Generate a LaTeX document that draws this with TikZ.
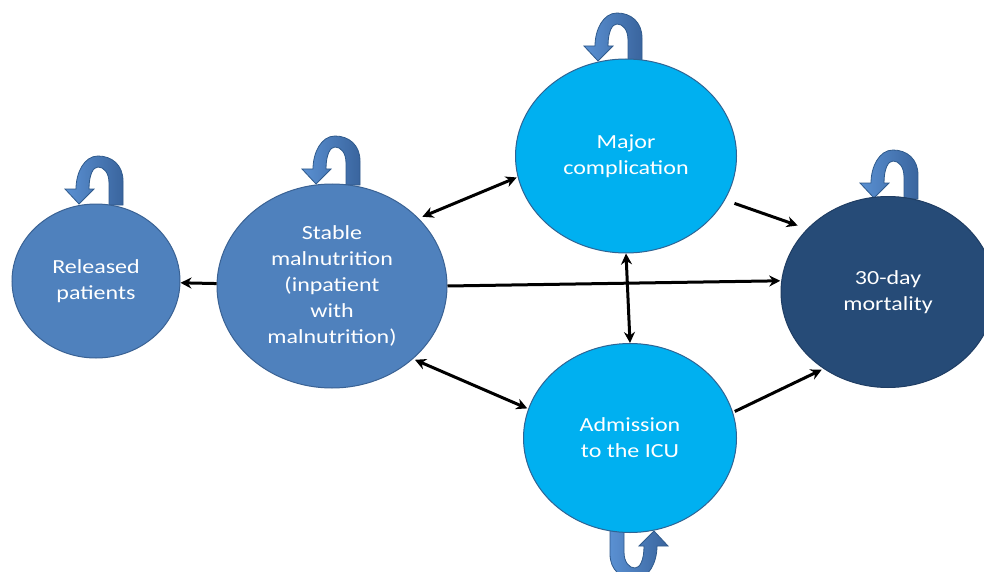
\documentclass[tikz,border=0pt]{standalone}
\usepackage{fontspec}
\setmainfont{Carlito}
\newfontfamily\lblfont[FakeStretch=1.2]{Carlito}
\usetikzlibrary{shapes.geometric,arrows.meta}
\definecolor{steel}{HTML}{4F81BD}
\definecolor{steeldark}{HTML}{3A6294}
\definecolor{cyanfill}{HTML}{00B0F0}
\definecolor{cyandraw}{HTML}{2F6494}
\definecolor{navy}{HTML}{264B77}
\definecolor{navydraw}{HTML}{1F3D63}
\definecolor{looplight}{HTML}{5A90D2}
\definecolor{loopdark}{HTML}{3A659E}
\definecolor{loopdraw}{HTML}{2F5A8C}
\tikzset{
  state/.style={ellipse, inner sep=0pt, line width=1pt, text=white, align=center,
    font=\lblfont\fontsize{20}{26}\selectfont},
  steelstate/.style={state, fill=steel, draw=steeldark},
  cyanstate/.style={state, fill=cyanfill, draw=cyandraw},
  navystate/.style={state, fill=navy, draw=navydraw},
  conn/.style={line width=3pt, draw=black},
  tip/.style={-{Stealth[length=11pt,width=11pt]}},
  bitip/.style={{Stealth[length=11pt,width=11pt]}-{Stealth[length=11pt,width=11pt]}},
  selfloop/.pic={
    \shadedraw[left color=looplight, right color=loopdark, draw=loopdraw, line width=0.8pt]
      (25,2) -- (25,-22) .. controls (25,-38) and (14,-47) .. (0,-47)
      .. controls (-14,-47) and (-22,-30) .. (-22,-14)
      -- (-33,-14) -- (-19,1) -- (-4,-14) -- (-9,-14)
      .. controls (-9,-28) and (-5,-36) .. (0,-36)
      .. controls (6,-36) and (11,-30) .. (11,-20) -- (11,2) -- cycle;
  }
}
\begin{document}
\begin{tikzpicture}[x=1pt,y=-1pt]
\useasboundingbox (0,0) rectangle (984,572);
\clip (0,0) rectangle (984,572);
\fill[white] (0,0) rectangle (984,572);
% self loops
\pic at (98,203) {selfloop};
\pic at (335,183) {selfloop};
\pic at (617,60) {selfloop};
\pic at (893,197) {selfloop};
\pic[rotate=180] at (635,532) {selfloop};
% states
\node[steelstate, minimum width=168pt, minimum height=154pt] (rel) at (96,281) {Released\\patients};
\node[steelstate, minimum width=230pt, minimum height=204pt] (st) at (332,286) {Stable\\malnutrition\\(inpatient\\with\\malnutrition)};
\node[cyanstate, minimum width=221pt, minimum height=194pt] (maj) at (626,156) {Major\\complication};
\node[cyanstate, minimum width=213pt, minimum height=189pt] (icu) at (630,438) {Admission\\to the ICU};
\node[navystate, minimum width=214pt, minimum height=191pt] (mort) at (888,292) {30-day\\mortality};
% connectors
\draw[conn, tip] (st) -- (rel);
\draw[conn, bitip, shorten <=4pt, shorten >=1pt] (st.38) -- (maj.191);
\draw[conn, tip, shorten >=1pt] (st.east) -- (mort.174);
\draw[conn, bitip, shorten <=2pt, shorten >=1pt] (st.-42) -- (icu.164);
\draw[conn, bitip] (maj.south) -- (icu.north);
\draw[conn, tip, shorten <=10pt, shorten >=10pt] (maj.-24) -- (mort.142);
\draw[conn, tip, shorten <=2pt, shorten >=2pt] (icu.14) -- (mort.-130);
\end{tikzpicture}
\end{document}
